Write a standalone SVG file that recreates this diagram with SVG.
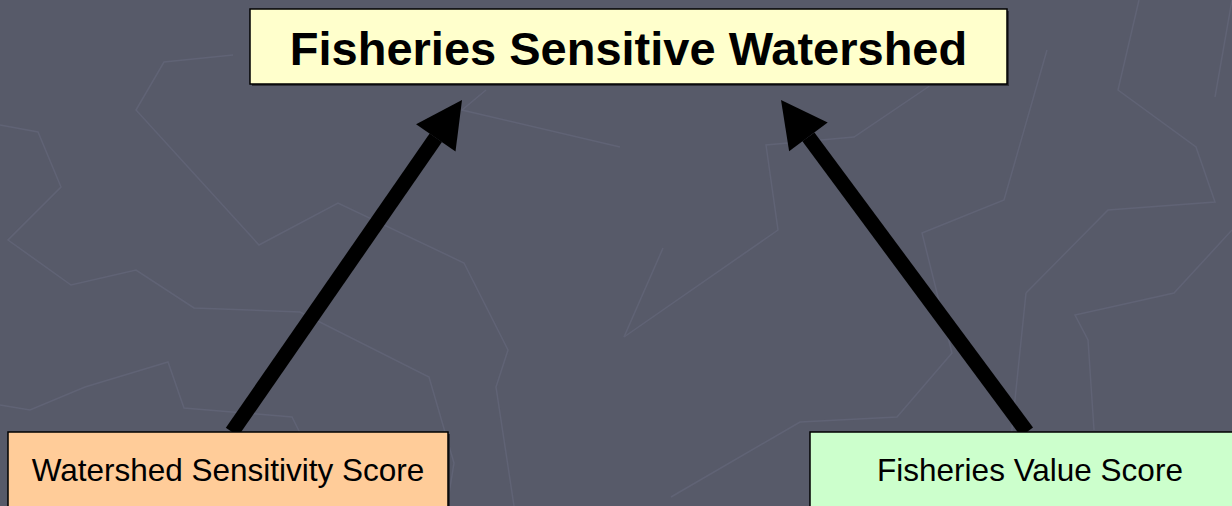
<svg xmlns="http://www.w3.org/2000/svg" width="1232" height="506" viewBox="0 0 1232 506">
<style>
.bg{fill:none;stroke:#606375;stroke-width:1.5;stroke-linejoin:miter}
.box{stroke:#000;stroke-width:1.5}
.shadow{fill:#2e2f38}
.title{font-family:"Liberation Sans",Arial,sans-serif;font-weight:bold;font-size:47px;fill:#000;text-anchor:middle}
.label{font-family:"Liberation Sans",Arial,sans-serif;font-size:31.5px;fill:#000;text-anchor:middle}
.shaft{stroke:#000;stroke-width:15;fill:none;stroke-linecap:butt}
</style>
<defs>
<marker id="head" markerUnits="userSpaceOnUse" markerWidth="50" markerHeight="50" refX="0" refY="25" orient="auto" overflow="visible">
<path d="M0,1 L46,25 L0,49 z" fill="#000"/>
</marker>
</defs>
<rect width="1232" height="506" fill="#575a69"/>
<g id="background">
<polyline class="bg" points="233,55 164,62 136,110 259,245 338,203 464,263 508,350 496,387 514,506"/>
<polyline class="bg" points="0,125 38,132 61,187 8,240 71,285 136,270 194,308 300,312 429,377 454,463 447,506"/>
<polyline class="bg" points="0,405 30,410 85,387 168,362 184,408 292,417 300,433"/>
<polyline class="bg" points="486,90 462,110 620,147"/>
<polyline class="bg" points="624,337 778,230 766,145 854,137 928,87 980,40"/>
<polyline class="bg" points="663,248 624,337"/>
<polyline class="bg" points="1047,50 1004,200 922,233 952,353 897,417 800,422 671,497"/>
<polyline class="bg" points="1026,293 1108,210 1215,202 1196,147 1118,90 1139,0"/>
<polyline class="bg" points="1026,293 1004,506"/>
<polyline class="bg" points="1232,230 1174,293 1075,315 1088,340 1094,430"/>
<polyline class="bg" points="1215,97 1232,0"/>
</g>
<g id="connectors">
<line class="shaft" x1="232" y1="432" x2="435.8" y2="137.8" marker-end="url(#head)"/>
<line class="shaft" x1="1027" y1="432" x2="808.4" y2="136.9" marker-end="url(#head)"/>
</g>
<g id="node-top">
<rect class="shadow" x="252" y="11" width="757" height="75"/>
<rect class="box" x="250" y="9" width="757" height="75" fill="#ffffcc"/>
<text class="title" x="628.5" y="65">Fisheries Sensitive Watershed</text>
</g>
<g id="node-left">
<rect class="shadow" x="10" y="434" width="440" height="80"/>
<rect class="box" x="8" y="432" width="440" height="80" fill="#ffcc99"/>
<text class="label" x="228" y="481">Watershed Sensitivity Score</text>
</g>
<g id="node-right">
<rect class="shadow" x="812" y="434" width="440" height="80"/>
<rect class="box" x="810" y="432" width="440" height="80" fill="#ccffcc"/>
<text class="label" x="1030" y="481">Fisheries Value Score</text>
</g>
</svg>
